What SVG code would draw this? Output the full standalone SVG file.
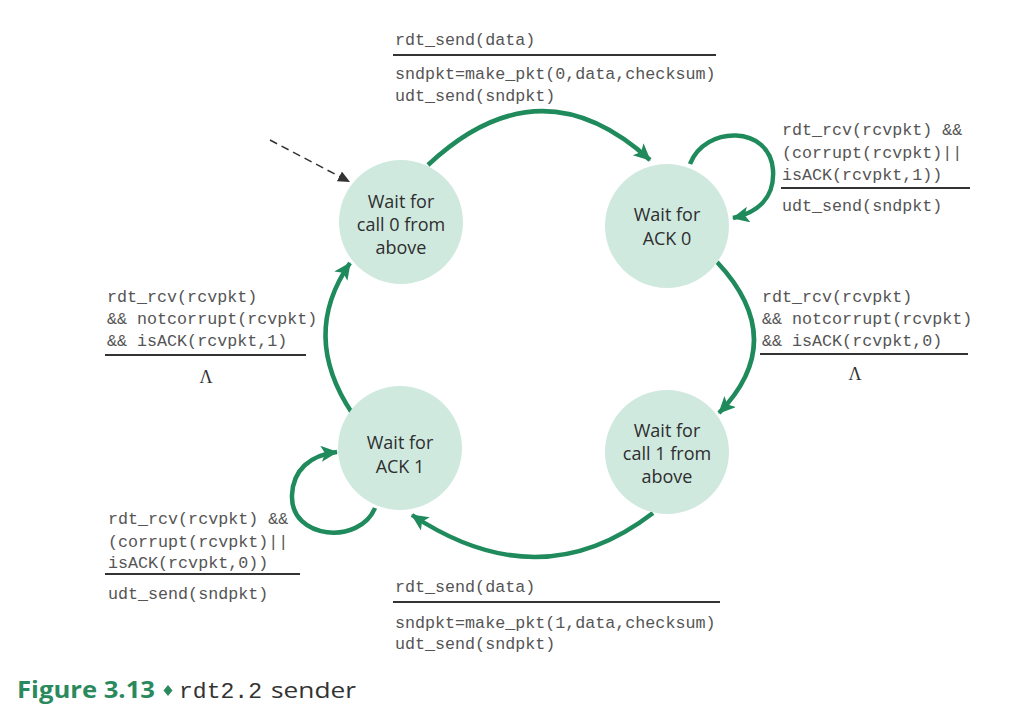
<svg xmlns="http://www.w3.org/2000/svg" width="1030" height="722" viewBox="0 0 1030 722">
<defs>
<style>
.state{fill:#cfe9df;}
.st{font-family:"Open Sans","Liberation Sans",sans-serif;font-size:18px;fill:#2e2e2e;text-anchor:middle;}
.lbl{font-family:"Liberation Mono","DejaVu Sans Mono",monospace;font-size:16.7px;fill:#555;}
.rule{stroke:#333;stroke-width:2;}
.edge{fill:none;stroke:#1f8a5b;stroke-width:4.5;marker-end:url(#ah);}
.lam{font-family:"Liberation Serif",serif;font-size:18px;fill:#333;text-anchor:middle;}
</style>
<marker id="ah" markerWidth="20" markerHeight="18" refX="16" refY="8" orient="auto" markerUnits="userSpaceOnUse">
<path d="M0,0 L17,8 L0,16 L4,8 Z" fill="#1f8a5b"/>
</marker>
<marker id="dh" markerWidth="14" markerHeight="12" refX="12" refY="5.5" orient="auto" markerUnits="userSpaceOnUse">
<path d="M0,0 L12,5.5 L0,11 Z" fill="#333"/>
</marker>
</defs>
<rect width="1030" height="722" fill="#ffffff"/>

<g id="connectors">
<path class="edge" d="M428,165 Q540,60 650,160"/>
<path class="edge" d="M690,164 C705,125 770,125 773,170 C775,200 755,213 733,218"/>
<path class="edge" d="M717,262 Q790,340 719,413"/>
<path class="edge" d="M653,513 Q540,600 412,515"/>
<path class="edge" d="M375,508 C360,545 290,540 292,495 C293,470 310,455 337,452"/>
<path class="edge" d="M352,413 Q300,335 350,263"/>
<path d="M270,140 L350,182" fill="none" stroke="#333" stroke-width="1.5" stroke-dasharray="8,5" marker-end="url(#dh)"/>
</g>

<g id="s_call0">
<circle class="state" cx="401" cy="222" r="62"/>
<text class="st" x="401" y="208">Wait for</text>
<text class="st" x="401" y="231">call 0 from</text>
<text class="st" x="401" y="254">above</text>
</g>
<g id="s_ack0">
<circle class="state" cx="667" cy="226" r="62"/>
<text class="st" x="667" y="221">Wait for</text>
<text class="st" x="667" y="245">ACK 0</text>
</g>
<g id="s_call1">
<circle class="state" cx="667" cy="452" r="62"/>
<text class="st" x="667" y="437">Wait for</text>
<text class="st" x="667" y="460">call 1 from</text>
<text class="st" x="667" y="483">above</text>
</g>
<g id="s_ack1">
<circle class="state" cx="400" cy="448" r="62"/>
<text class="st" x="400" y="449">Wait for</text>
<text class="st" x="400" y="473">ACK 1</text>
</g>

<g id="label_top">
<text class="lbl" x="395" y="45">rdt_send(data)</text>
<line class="rule" x1="393" y1="55" x2="716" y2="55"/>
<text class="lbl" x="395" y="79">sndpkt=make_pkt(0,data,checksum)</text>
<text class="lbl" x="395" y="101">udt_send(sndpkt)</text>
</g>
<g id="label_ack0_loop">
<text class="lbl" x="782" y="135">rdt_rcv(rcvpkt) &amp;&amp;</text>
<text class="lbl" x="782" y="158">(corrupt(rcvpkt)||</text>
<text class="lbl" x="782" y="180">isACK(rcvpkt,1))</text>
<line class="rule" x1="781" y1="188" x2="970" y2="188"/>
<text class="lbl" x="782" y="211">udt_send(sndpkt)</text>
</g>
<g id="label_left">
<text class="lbl" x="107" y="302">rdt_rcv(rcvpkt)</text>
<text class="lbl" x="107" y="324">&amp;&amp; notcorrupt(rcvpkt)</text>
<text class="lbl" x="107" y="346">&amp;&amp; isACK(rcvpkt,1)</text>
<line class="rule" x1="105" y1="355" x2="306" y2="355"/>
<text class="lam" x="206" y="383">Λ</text>
</g>
<g id="label_right">
<text class="lbl" x="762" y="302">rdt_rcv(rcvpkt)</text>
<text class="lbl" x="762" y="324">&amp;&amp; notcorrupt(rcvpkt)</text>
<text class="lbl" x="762" y="346">&amp;&amp; isACK(rcvpkt,0)</text>
<line class="rule" x1="760" y1="354" x2="968" y2="354"/>
<text class="lam" x="855" y="380">Λ</text>
</g>
<g id="label_ack1_loop">
<text class="lbl" x="108" y="524">rdt_rcv(rcvpkt) &amp;&amp;</text>
<text class="lbl" x="108" y="547">(corrupt(rcvpkt)||</text>
<text class="lbl" x="108" y="568">isACK(rcvpkt,0))</text>
<line class="rule" x1="105" y1="574" x2="300" y2="574"/>
<text class="lbl" x="108" y="599">udt_send(sndpkt)</text>
</g>
<g id="label_bottom">
<text class="lbl" x="395" y="592">rdt_send(data)</text>
<line class="rule" x1="393" y1="602" x2="720" y2="602"/>
<text class="lbl" x="395" y="628">sndpkt=make_pkt(1,data,checksum)</text>
<text class="lbl" x="395" y="649">udt_send(sndpkt)</text>
</g>

<g id="caption">
<text x="17" y="698" font-family="Open Sans, Liberation Sans, sans-serif" font-weight="bold" font-size="24" fill="#2a8a5e" textLength="138" lengthAdjust="spacingAndGlyphs">Figure 3.13</text>
<path d="M168,685 L172.5,690.5 L168,696 L163.5,690.5 Z" fill="#2a8a5e"/>
<text x="179" y="698" font-family="Liberation Mono, monospace" font-size="22" fill="#333" textLength="83" lengthAdjust="spacingAndGlyphs">rdt2.2</text>
<text x="271" y="698" font-family="Open Sans, Liberation Sans, sans-serif" font-size="22" fill="#333" textLength="85" lengthAdjust="spacingAndGlyphs">sender</text>
</g>
</svg>
